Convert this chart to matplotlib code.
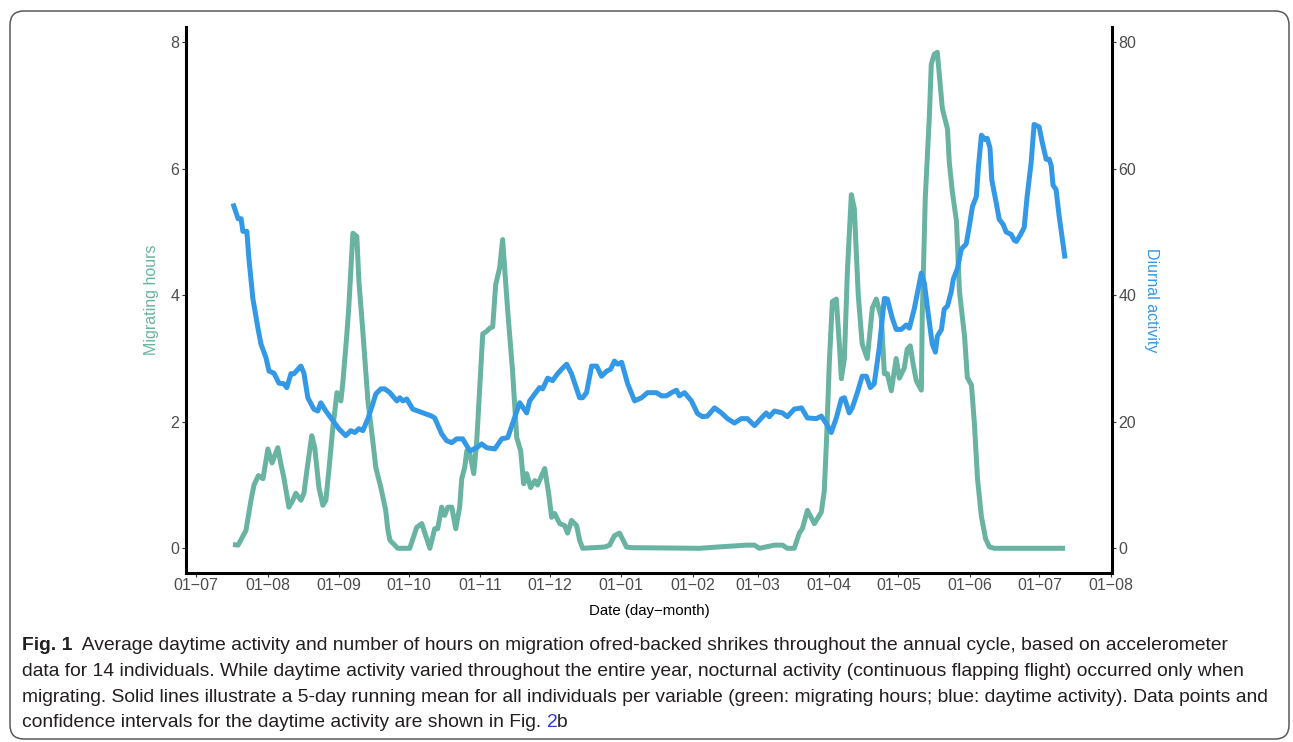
import matplotlib
matplotlib.use("Agg")
import matplotlib.pyplot as plt
from matplotlib.patches import FancyBboxPatch

# days are counted from 1 July (start of the annual cycle)
mig_day = [16.0, 18.2, 21.6, 23.8, 25.1, 27.0, 29.0, 31.1, 32.9, 35.4, 36.7, 38.0,
           40.2, 41.9, 43.2, 45.4, 46.7, 48.4, 50.1, 51.4, 53.2, 54.9, 56.2, 57.5,
           59.2, 61.0, 62.7, 63.5, 65.3, 66.1, 67.9, 69.6, 70.5, 72.2, 74.4, 76.5,
           77.8, 80.0, 82.1, 83.0, 83.9, 87.3, 92.5, 95.5, 97.7, 101.2, 103.3, 104.6,
           106.3, 107.6, 109.0, 110.7, 112.4, 114.1, 115.0, 116.3, 117.2, 118.5, 120.2,
           121.5, 122.8, 124.1, 125.8, 127.1, 128.4, 129.7, 131.4, 132.7, 134.9, 137.0,
           138.8, 140.5, 141.8, 143.1, 144.8, 146.6, 147.8, 149.6, 150.9, 152.6, 153.9,
           155.2, 157.4, 159.5, 160.8, 162.5, 164.7, 166.0, 167.3, 176.8, 179.0, 181.1,
           183.3, 186.3, 188.5, 217.9, 225.7, 238.2, 241.7, 243.8, 250.3, 253.8, 255.9,
           258.9, 261.1, 262.4, 264.6, 267.6, 270.6, 271.9, 272.8, 274.1, 275.4, 277.1,
           278.4, 279.3, 280.6, 281.9, 283.6, 284.9, 286.6, 288.3, 290.5, 292.7, 294.4,
           296.6, 297.9, 299.2, 300.9, 303.0, 304.4, 306.5, 307.8, 309.1, 310.4, 311.7,
           313.9, 314.3, 315.6, 317.4, 318.2, 319.5, 320.8, 321.7, 323.0, 325.2, 326.0,
           327.3, 329.1, 330.4, 332.6, 333.8, 335.6, 336.9, 338.2, 339.9, 341.7, 343.4,
           345.6, 376.1]
mig_hours = [0.06, 0.05, 0.28, 0.76, 1.0, 1.15, 1.1, 1.57, 1.35, 1.59, 1.34, 1.12,
             0.65, 0.76, 0.87, 0.76, 0.87, 1.34, 1.78, 1.59, 0.96, 0.68, 0.76, 1.23,
             1.9, 2.46, 2.33, 2.6, 3.39, 3.8, 4.98, 4.93, 4.22, 3.43, 2.33, 1.7,
             1.28, 0.96, 0.6, 0.3, 0.13, 0.0, 0.0, 0.33, 0.39, 0.0, 0.31, 0.31,
             0.65, 0.52, 0.65, 0.65, 0.31, 0.65, 1.1, 1.28, 1.54, 1.5, 1.18,
             1.7, 2.54, 3.39, 3.43, 3.48, 3.5, 4.17, 4.43, 4.88, 3.75, 2.8,
             1.75, 1.54, 1.02, 1.18, 0.96, 1.07, 1.0, 1.15, 1.26, 0.87, 0.49,
             0.55, 0.39, 0.36, 0.24, 0.44, 0.36, 0.13, 0.0, 0.02, 0.05, 0.2,
             0.24, 0.02, 0.01, 0.0, 0.02, 0.05, 0.05, 0.0, 0.05, 0.05, 0.0,
             0.0, 0.24, 0.31, 0.6, 0.39, 0.57, 0.91, 1.65, 2.96, 3.9, 3.94,
             3.23, 2.68, 3.0, 4.38, 5.59, 5.37, 4.0, 3.23, 3.0, 3.8, 3.94,
             3.64, 2.76, 2.76, 2.49, 3.0, 2.69, 2.85, 3.15, 3.2, 2.9, 2.65,
             2.5, 3.7, 5.53, 6.85, 7.65, 7.81, 7.84, 7.48, 6.95, 6.63, 6.1,
             5.64, 5.17, 4.06, 3.35, 2.7, 2.58, 1.95, 1.1, 0.5, 0.15, 0.02,
             0.0, 0.0]

act_day = [16.0, 18.2, 19.5, 20.3, 22.0, 22.9, 24.6, 26.8, 28.1, 30.3, 31.6, 33.7,
           35.9, 38.0, 39.3, 41.1, 42.4, 44.1, 45.4, 46.7, 48.4, 51.0, 52.7, 54.0,
           56.2, 59.2, 61.8, 64.8, 67.0, 68.7, 70.5, 72.2, 74.4, 76.5, 77.8, 80.0,
           81.7, 83.9, 86.9, 88.2, 89.5, 91.2, 93.8, 96.0, 99.0, 102.0, 103.3, 106.3,
           108.5, 110.7, 112.8, 115.4, 118.5, 121.5, 123.6, 125.8, 129.3, 132.3, 134.9,
           137.0, 140.1, 143.1, 144.4, 146.6, 148.7, 150.0, 152.2, 154.3, 156.5, 158.7,
           160.4, 162.5, 164.7, 166.0, 167.3, 169.0, 171.2, 173.4, 175.5, 177.7, 179.4,
           181.1, 182.4, 184.2, 186.8, 189.8, 192.8, 195.4, 199.3, 201.4, 203.6, 205.8,
           207.9, 209.2, 211.4, 214.4, 217.0, 219.2, 221.3, 224.4, 227.4, 230.0, 233.0,
           236.0, 238.6, 241.7, 244.7, 246.8, 248.1, 250.3, 253.8, 255.9, 258.9, 262.0,
           264.6, 268.5, 270.6, 272.8, 274.9, 277.1, 279.3, 280.6, 282.7, 284.0, 286.2,
           288.3, 290.1, 291.8, 293.5, 295.7, 297.9, 299.2, 301.3, 303.0, 305.2, 307.4,
           308.7, 310.8, 312.1, 313.9, 315.2, 316.9, 318.6, 320.0, 320.8, 322.6, 323.8,
           325.2, 326.8, 327.7, 329.5, 331.2, 333.3, 334.7, 336.0, 337.7, 338.6, 339.9,
           341.5, 342.4, 343.6, 344.4, 346.3, 347.6, 349.3, 350.6, 352.8, 354.1, 355.0,
           356.7, 358.4, 359.7, 361.4, 362.7, 364.9, 366.2, 367.9, 369.2, 370.1, 370.9,
           372.2, 373.5, 376.1]
act_value = [54.5, 52.1, 52.1, 50.1, 50.1, 45.8, 39.5, 34.8, 32.3, 30.1, 28.0, 27.7,
             26.1, 26.0, 25.4, 27.6, 27.6, 28.3, 28.8, 27.7, 23.8, 22.0, 21.7, 23.0,
             21.7, 20.2, 18.9, 17.8, 18.6, 18.3, 18.9, 18.6, 20.5, 22.8, 24.4, 25.2,
             25.2, 24.6, 23.3, 23.8, 23.3, 23.6, 22.0, 21.7, 21.3, 20.9, 20.6, 18.1,
             17.0, 16.7, 17.3, 17.3, 15.4, 15.9, 16.5, 15.9, 15.7, 17.3, 17.5,
             19.7, 23.0, 21.4, 23.3, 24.4, 25.4, 25.2, 26.9, 26.5, 27.6, 28.5,
             29.1, 27.6, 25.2, 23.8, 23.8, 24.6, 28.8, 28.8, 27.2, 28.0, 28.3,
             29.6, 29.1, 29.4, 26.0, 23.3, 23.8, 24.6, 24.6, 24.1, 24.1, 24.6,
             25.0, 24.1, 24.6, 23.3, 21.3, 20.8, 20.9, 22.2, 21.4, 20.5, 19.8,
             20.5, 20.5, 19.4, 20.6, 21.4, 20.8, 21.7, 21.4, 20.8, 22.0, 22.2,
             20.6, 20.5, 20.9, 19.7, 18.3, 20.6, 23.6, 23.8, 21.4, 22.2, 24.6,
             27.2, 27.2, 25.4, 26.0, 31.7, 39.5, 39.4, 36.4, 34.6, 34.6, 35.3,
             34.8, 37.8, 40.2, 43.5, 41.9, 37.0, 32.3, 31.0, 33.5, 34.6, 37.8,
             38.3, 40.5, 42.5, 44.2, 47.3, 48.1, 51.0, 54.0, 55.6, 60.3, 65.3,
             64.6, 64.8, 63.3, 58.2, 54.6, 52.0, 51.2, 50.0, 49.6, 48.7, 48.5,
             49.5, 50.7, 55.7, 60.9, 67.0, 66.6, 64.2, 61.5, 61.5, 60.5, 57.4,
             56.7, 52.6, 45.8]

tick_days = [0, 31, 62, 92, 123, 153, 184, 215, 243, 274, 304, 335, 365, 396]
tick_labels = ["01\u221207", "01\u221208", "01\u221209", "01\u221210", "01\u221211",
               "01\u221212", "01\u221201", "01\u221202", "01\u221203", "01\u221204",
               "01\u221205", "01\u221206", "01\u221207", "01\u221208"]

green = "#69b3a2"
blue = "#3399e6"
grey = "#4d4d4d"

plt.rcParams['font.family'] = ['Liberation Sans', 'DejaVu Sans']

fig = plt.figure(figsize=(12.93, 7.42), dpi=100)
ax = fig.add_axes([0.1439, 0.2278, 0.7161, 0.7358])
ax2 = ax.twinx()

ax.plot(mig_day, mig_hours, color=green, lw=3.6, solid_capstyle='butt')
ax2.plot(act_day, act_value, color=blue, lw=3.6, solid_capstyle='butt')

ax.set_xlim(-4.3, 396.4)
ax.set_ylim(-0.39, 8.24)
ax2.set_ylim(-3.9, 82.4)

ax.set_xticks(tick_days)
ax.set_xticklabels(tick_labels)
ax.set_yticks([0, 2, 4, 6, 8])
ax2.set_yticks([0, 20, 40, 60, 80])

for a in (ax, ax2):
    a.set_facecolor('none')
    a.spines['top'].set_visible(False)
    for s in a.spines.values():
        s.set_linewidth(2.2)
        s.set_color('black')
    a.tick_params(length=2.8, width=0.8, color='#333333', labelcolor=grey,
                  labelsize=11.5, pad=2)
ax.tick_params(axis='x', pad=0.5)
ax.spines['right'].set_visible(False)
ax2.spines['left'].set_visible(False)
ax2.spines['bottom'].set_visible(False)

ax.set_ylabel("Migrating hours", color=green, fontsize=11.5, labelpad=8)
ax2.set_ylabel("Diurnal activity", color=blue, fontsize=11.5, rotation=270,
               labelpad=16)
ax.set_xlabel("Date (day\u2212month)", fontsize=10.8, labelpad=8)

# frame round the figure
frame = FancyBboxPatch((10, 3), 1279, 728,
                       boxstyle="round,pad=0,rounding_size=14",
                       transform=None, fill=False, edgecolor='#58595b', lw=1.1)
fig.patches.append(frame)

# caption
cap_font = ['Liberation Sans']
cap_size = 13.9
cap_col = '#231f20'
x0 = 22 / 1293
base = [650, 676, 702, 727]
t1 = fig.text(x0, 1 - base[0] / 742, "Fig. 1", fontsize=cap_size, fontweight='bold',
              family=cap_font, color=cap_col, va='baseline')
plt.annotate("  Average daytime activity and number of hours on migration ofred-backed "
             "shrikes throughout the annual cycle, based on accelerometer",
             xy=(1, 0), xycoords=t1, va='bottom', ha='left', fontsize=cap_size,
             family=cap_font, color=cap_col)
fig.text(x0, 1 - base[1] / 742,
         "data for 14 individuals. While daytime activity varied throughout the entire "
         "year, nocturnal activity (continuous flapping flight) occurred only when",
         fontsize=cap_size, family=cap_font, color=cap_col, va='baseline')
fig.text(x0, 1 - base[2] / 742,
         "migrating. Solid lines illustrate a 5-day running mean for all individuals per "
         "variable (green: migrating hours; blue: daytime activity). Data points and",
         fontsize=cap_size, family=cap_font, color=cap_col, va='baseline')
t4 = fig.text(x0, 1 - base[3] / 742,
              "confidence intervals for the daytime activity are shown in Fig. ",
              fontsize=cap_size, family=cap_font, color=cap_col, va='baseline')
t5 = plt.annotate("2", xy=(1, 0), xycoords=t4, va='bottom', ha='left',
                  fontsize=cap_size, family=cap_font, color='#2b3bd6')
plt.annotate("b", xy=(1, 0), xycoords=t5, va='bottom', ha='left',
             fontsize=cap_size, family=cap_font, color=cap_col)

fig.savefig("out.png", dpi=100)
